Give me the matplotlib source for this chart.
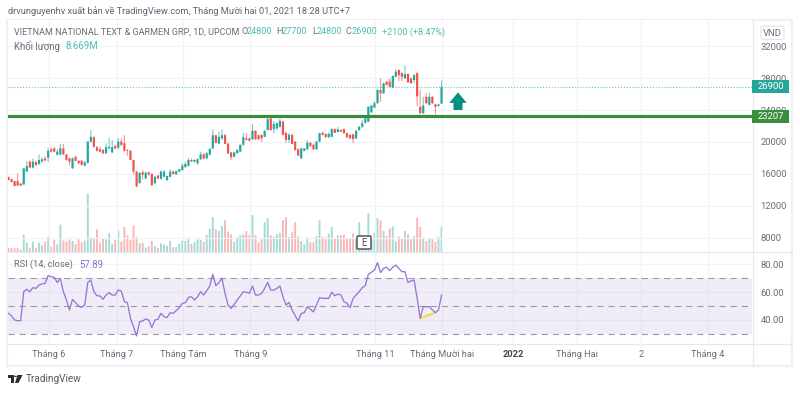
import matplotlib
matplotlib.use("Agg")
import matplotlib.pyplot as plt
import numpy as np
from matplotlib.lines import Line2D
from matplotlib.patches import Rectangle, Circle, Polygon, FancyBboxPatch
from matplotlib.transforms import blended_transform_factory

plt.rcParams['font.family'] = ['Roboto', 'DejaVu Sans']

# daily candles
opens = [15600,15350,15100,15100,14800,14700,16300,17550,16800,17500,
         17250,17600,17950,18050,19100,19200,18400,18450,19200,18450,
         17950,16700,18150,17650,17650,17050,17400,20050,20600,19350,
         19100,19000,18600,19200,18700,19500,19300,20050,19850,19000,
         18900,17750,16300,14850,16200,15450,16200,16000,14850,15800,
         15400,15650,15250,15650,16300,15950,16300,16500,16850,17050,
         17750,17550,17350,17850,18450,17950,18400,19200,20850,19800,
         20450,20850,19800,18700,18150,18600,18800,19650,20450,20450,
         20350,21400,20850,20850,20650,21500,22950,21600,21700,21900,
         22550,21150,20250,20900,20050,19100,17950,18900,19100,19900,
         19650,19100,20050,21150,21000,20600,20650,21600,21250,21500,
         21600,21100,20900,20950,20450,21500,21900,22400,22550,23700,
         24300,24850,26500,26100,27550,27550,26800,28150,29000,28600,
         27950,28500,27950,27750,28600,24400,23600,25650,24650,25650,
         24700,24500,24800]
closes = [15250,15000,14500,14550,14550,16700,17000,16800,17550,17100,
          17750,17850,17700,18900,18800,18800,18800,19200,18450,17750,
          17550,17950,17650,17350,17150,17450,20050,20650,19400,18900,
          18800,18600,19350,19400,19350,19200,20050,19650,18900,18900,
          17750,16300,14450,16150,15900,16150,15950,14600,15650,15450,
          16300,16300,15750,16300,16000,16350,16600,17050,17250,17750,
          17550,17750,17850,18450,17950,18600,19150,20850,19900,20650,
          20850,19750,18550,18100,18700,19000,19650,20600,20250,20150,
          21400,20350,20350,20450,21400,22850,21500,22250,22350,22650,
          20900,20250,20900,19750,19000,18300,19200,19200,19900,19500,
          19100,20050,21100,20900,20650,21000,21600,21150,21600,21300,
          21100,20600,20450,20350,21400,21900,22350,22950,24400,24550,
          24850,26500,26100,27350,27150,26900,28250,28800,28350,28150,
          28500,27450,27350,28350,25700,23600,24550,24850,25650,24850,
          24400,24700,26900]
highs = [15700,15400,15150,16100,14850,16800,17650,17700,17900,17700,
         18450,18100,18250,19300,19300,19400,19100,19750,19750,18500,
         18100,18100,18300,17700,17750,17650,20100,21500,20700,19500,
         19400,19100,19800,20500,20250,19700,20500,20450,20850,19100,
         19000,17800,16350,16200,16500,16300,16300,16100,15750,15900,
         16450,16500,15800,16600,16450,16450,16650,17350,17550,18050,
         17900,17850,17950,18800,18650,18750,19200,21600,20900,21300,
         21600,21000,19900,18750,18800,19100,19700,21150,21100,20600,
         22250,21500,20950,21000,21500,23100,23350,22600,22450,22900,
         22650,21300,21100,21000,20100,19200,19250,19250,20250,20050,
         19800,20150,21150,21300,21050,21200,21700,21700,21900,21600,
         21700,21150,20950,21000,21500,22000,22750,23100,24450,24650,
         25100,26700,27950,27400,27600,27950,28350,29100,29050,28700,
         29600,28600,28050,28500,28750,26500,25650,26100,26200,25750,
         24800,24800,27700]
lows = [15200,14950,14450,14500,14500,14650,16250,16700,16700,17000,
        17100,17400,17600,17500,18700,18700,18300,18300,18350,17650,
        17100,16650,17600,17200,17050,16950,17300,19900,19300,18800,
        18700,18450,18500,19100,18600,19100,19100,19500,18800,18300,
        17700,15900,14350,14800,15300,15350,15800,14500,14750,15300,
        15300,15600,15100,15600,15900,15900,16250,16400,16800,16900,
        17500,17400,17150,17750,17800,17850,18350,19100,19800,19700,
        20250,19700,18500,17750,18100,18500,18700,19500,20200,20100,
        20250,20250,20250,20000,20600,21400,21400,21100,21500,21800,
        20800,19900,19900,19700,18900,18250,17900,18850,19000,19350,
        18950,19000,19950,20800,20500,20500,20600,21100,21200,21250,
        21000,20500,20400,19850,20350,21400,21750,22300,22500,23650,
        24250,24800,25000,26000,27000,26850,26750,28100,27600,27600,
        27900,27400,27250,27350,24500,23500,23500,24750,24550,24750,
        23450,24450,24800]

# volume in millions
volumes = [1.4,1.3,1.3,1.5,0.9,6.1,3.2,1.5,3.6,1.4,
           3.2,2.3,3.6,5.3,1.8,4.2,2.7,9.5,4.0,3.6,
           4.4,3.8,2.7,4.4,3.4,3.9,20.2,5.1,4.9,7.9,
           3.2,4.6,4.4,6.5,2.7,4.2,7.5,3.6,8.7,5.8,
           4.2,9.2,5.3,3.0,3.2,1.5,2.0,3.8,2.1,1.4,
           3.0,2.5,2.1,3.8,1.7,1.7,2.9,4.0,3.8,5.0,
           2.8,3.5,4.4,4.2,3.5,5.9,8.1,12.1,7.9,7.3,
           9.0,11.0,7.1,6.1,3.6,5.2,5.8,6.1,7.3,6.0,
           12.9,5.8,3.4,4.4,10.3,11.7,5.8,5.3,6.1,6.5,
           11.1,12.1,5.2,6.8,10.3,5.4,3.8,2.7,5.0,3.4,
           3.4,5.4,11.0,5.2,5.0,6.4,8.7,4.7,5.8,5.8,
           6.0,4.7,4.7,6.5,4.6,10.3,4.4,5.5,13.4,4.7,
           6.7,11.7,10.9,7.3,5.5,8.2,8.9,3.6,5.4,4.7,
           7.3,6.1,4.4,5.5,11.9,8.7,5.0,3.8,4.7,4.4,
           3.5,5.2,8.669]

rsi = [44.8,42.9,40.0,39.5,39.5,60.4,62.1,60.4,63.3,62.8,
       65.2,66.0,66.4,72.0,71.2,70.8,66.9,70.0,60.4,54.4,
       47.2,54.9,52.5,50.1,49.1,50.8,67.1,68.8,60.4,57.5,
       57.3,54.9,58.0,59.7,58.0,58.0,61.6,60.9,53.2,52.5,
       41.2,35.2,28.5,38.8,39.3,40.7,40.0,34.5,40.0,40.5,
       44.8,42.4,41.7,45.3,44.8,46.7,48.9,52.0,52.5,56.3,
       56.8,54.4,56.8,60.4,58.0,61.1,64.5,72.9,64.8,66.9,
       70.0,59.2,50.8,48.4,51.3,54.4,57.3,60.4,60.0,59.2,
       64.5,58.0,58.0,59.2,62.8,67.1,61.6,61.6,62.8,64.5,
       56.8,50.8,52.7,47.2,43.1,39.3,44.8,45.3,49.6,47.7,
       45.8,50.8,56.1,55.6,55.6,55.6,60.0,57.5,58.7,58.0,
       53.2,52.0,48.9,55.6,58.0,60.4,63.3,64.8,72.9,74.4,
       76.0,81.3,74.1,77.2,78.0,75.6,78.0,79.6,77.2,74.8,
       74.8,67.1,68.1,68.8,55.6,41.2,49.6,49.6,49.6,47.2,
       45.3,47.2,57.89]

price_ticks = [32000, 28000, 24000, 20000, 16000, 12000, 8000]
rsi_ticks = [80, 60, 40]
rsi_bands = [70, 50, 30]
time_pos = [13.3, 35.6, 57.2, 79.3, 120.2, 142.1, 165.4, 186.4, 207.4, 229.3]
time_labels = ['Tháng 6', 'Tháng 7', 'Tháng Tám', 'Tháng 9', 'Tháng 11',
               'Tháng Mười hai', '2022', 'Tháng Hai', '2', 'Tháng 4']
last_price = 26900
level_price = 23207
div_start, div_end = 135, 140   # yellow line on the rsi

GREEN = '#26a69a'
RED = '#ef5350'
GREY = '#6a6d78'
GRID = '#f1f3f8'
BORDER = '#e6e8ee'
W, H = 800, 393


def fx(x):
    return x / W


def fy(y):
    return 1 - y / H


def pane(x0, y0, x1, y1):
    return [fx(x0), fy(y1), fx(x1) - fx(x0), fy(y0) - fy(y1)]


def label(x, y, s, color=GREY, size=6.9, **kw):
    fig.text(fx(x), fy(y), s, color=color, fontsize=size, va='center', **kw)


fig = plt.figure(figsize=(8, 3.93), dpi=100, facecolor='white')
ax_vol = fig.add_axes(pane(8, 20, 752, 252), zorder=1)
ax = fig.add_axes(pane(8, 20, 752, 252), zorder=2, sharex=ax_vol)
ax_rsi = fig.add_axes(pane(8, 252, 752, 344), zorder=1, sharex=ax_vol)
ax.patch.set_alpha(0)

idx = np.arange(len(closes))
opens_a, closes_a = np.array(opens), np.array(closes)
up = closes_a >= opens_a
colors = [GREEN if u else RED for u in up]

# volume bars
vol_bars = ax_vol.bar(idx, volumes, width=0.62, color=colors, alpha=0.42, linewidth=0)
for b in vol_bars:
    b.set_snap(False)
ax_vol.set_ylim(0, 80.5)
ax_vol.set_yticks([])
ax_vol.grid(False)

# candles
wicks = ax.vlines(idx, lows, highs, colors=colors, linewidth=0.8, alpha=0.6, zorder=3)
wicks.set_snap(False)
bodies = ax.bar(idx, np.abs(closes_a - opens_a), bottom=np.minimum(opens_a, closes_a), width=0.72,
                color=colors, linewidth=0, zorder=4)
for b in bodies:
    b.set_snap(False)
ax.set_xlim(-0.16, 243.8)
ax.set_ylim(6250, 35250)
ax.set_yticks(price_ticks)
ax.yaxis.tick_right()
ax.tick_params(axis='y', length=0, pad=6, labelsize=6.8, labelcolor=GREY)
ax.tick_params(axis='x', length=0, labelbottom=False)
ax.set_xticks(time_pos)
ax.grid(True, color=GRID, linewidth=0.9)
ax.set_axisbelow(True)

ax.axhline(last_price, color='#6cc4bc', linewidth=0.8, linestyle=(0, (1, 1.6)), zorder=2)
ax.axhline(level_price, color='#388e3c', linewidth=2.3, zorder=5)

# price labels on the right scale
trans = blended_transform_factory(ax.transAxes, ax.transData)
for price, col in [(last_price, GREEN), (level_price, '#388e3c')]:
    ax.add_patch(Rectangle((1.0, price - 800), 37 / 744, 1600, transform=trans, facecolor=col,
                           edgecolor='none', clip_on=False, zorder=6))
    ax.text(1 + 18.5 / 744, price, str(price), transform=trans, color='white', fontsize=6.8,
            ha='center', va='center', clip_on=False, zorder=7)

# up arrow
ax.annotate('', xy=(147.4, 26200), xytext=(147.4, 24000),
            arrowprops=dict(width=6.5, headwidth=12.5, headlength=7.5, color='#00917f', shrink=0, linewidth=0),
            zorder=6)

# rsi pane
ax_rsi.axhspan(rsi_bands[2], rsi_bands[0], color='#7e57c2', alpha=0.1, linewidth=0)
for band in rsi_bands:
    ax_rsi.axhline(band, color='#9a98a8', linewidth=0.8, linestyle=(0, (5.5, 4.5)))
ax_rsi.plot(idx, rsi, color='#9478d6', linewidth=0.95, zorder=4)
ax_rsi.plot([div_start, div_end], [rsi[div_start], rsi[div_end]], color='#f5d94e', linewidth=1.6, zorder=3)
ax_rsi.set_ylim(22.7, 89)
ax_rsi.set_yticks(rsi_ticks)
ax_rsi.set_yticklabels([f'{t:.2f}' for t in rsi_ticks])
ax_rsi.yaxis.tick_right()
ax_rsi.tick_params(axis='y', length=0, pad=6, labelsize=6.8, labelcolor=GREY)
ax_rsi.set_xticks(time_pos)
ax_rsi.set_xticklabels(time_labels)
ax_rsi.tick_params(axis='x', length=0, pad=4.5, labelsize=6.7, labelcolor=GREY)
ax_rsi.get_xticklabels()[6].set_fontweight('bold')
ax_rsi.get_xticklabels()[6].set_color('#444650')
ax_rsi.grid(True, color=GRID, linewidth=0.9)
ax_rsi.set_axisbelow(True)

for a in (ax, ax_vol, ax_rsi):
    for s in a.spines.values():
        s.set_visible(False)
ax_vol.tick_params(axis='x', length=0, labelbottom=False)

# pane borders
fig.add_artist(Rectangle((fx(7), fy(366)), fx(785), fy(20) - fy(366), transform=fig.transFigure,
                         fill=False, edgecolor='#eef0f6', linewidth=1.6))
for y in (252, 344):
    fig.add_artist(Line2D([fx(8), fx(792)], [fy(y), fy(y)], color=BORDER, linewidth=0.9))
fig.add_artist(Line2D([fx(752.5), fx(752.5)], [fy(20), fy(366)], color=BORDER, linewidth=0.9))

# header and legends
label(8, 11, 'drvunguyenhv xuất bản về TradingView.com, Tháng Mười hai 01, 2021 18:28 UTC+7', color='#5f6270', size=6.7)
label(14, 32, 'VIETNAM NATIONAL TEXT & GARMEN GRP, 1D, UPCOM', size=6.5)
for x_name, name, x_val, val in [(241, 'O', 247, '24800'), (276, 'H', 282, '27700'),
                                 (312, 'L', 317, '24800'), (346, 'C', 352, '26900')]:
    label(x_name, 32, name, size=6.6)
    label(x_val, 32, val, color='#4dbdb2', size=6.6)
label(382, 32, '+2100 (+8.47%)', color='#4dbdb2', size=6.5)
label(14, 46, 'Khối lượng')
label(65, 46, '8.669M', color='#4dbdb2')
label(14, 264.7, 'RSI (14, close)', size=6.7)
label(79, 264.7, '57.89', color='#8e6fd0')

# currency box
fig.add_artist(FancyBboxPatch((fx(761), fy(39.5)), fx(23), fy(26) - fy(39.5), transform=fig.transFigure,
                              boxstyle='round,pad=0,rounding_size=0.004', facecolor='white',
                              edgecolor='#e0e3eb', linewidth=0.8))
label(772.5, 33, 'VND', ha='center', size=6.8)

# earnings marker
fig.add_artist(FancyBboxPatch((fx(357), fy(249)), fx(14), fy(236) - fy(249), transform=fig.transFigure,
                              boxstyle='round,pad=0,rounding_size=0.002', facecolor='white',
                              edgecolor='#55575f', linewidth=1.1, zorder=8))
fig.text(fx(364), fy(242.5), 'E', color='#55575f', fontsize=7, ha='center', va='center', zorder=9)

# footer logo
logo = '#2a2e39'
fig.add_artist(Polygon([(fx(8), fy(375)), (fx(14), fy(375)), (fx(14), fy(383)), (fx(11), fy(383)),
                        (fx(11), fy(378)), (fx(8), fy(378))], closed=True, transform=fig.transFigure,
                       facecolor=logo, edgecolor='none'))
fig.add_artist(Circle((fx(15.5), fy(376.4)), 0.0017, transform=fig.transFigure, facecolor=logo, edgecolor='none'))
fig.add_artist(Polygon([(fx(17.5), fy(375)), (fx(22.5), fy(375)), (fx(18.5), fy(383)), (fx(15), fy(383))],
                       closed=True, transform=fig.transFigure, facecolor=logo, edgecolor='none'))
label(26, 379, 'TradingView', color='#555863', size=7.2)

fig.savefig('out.png', dpi=100, facecolor='white')
